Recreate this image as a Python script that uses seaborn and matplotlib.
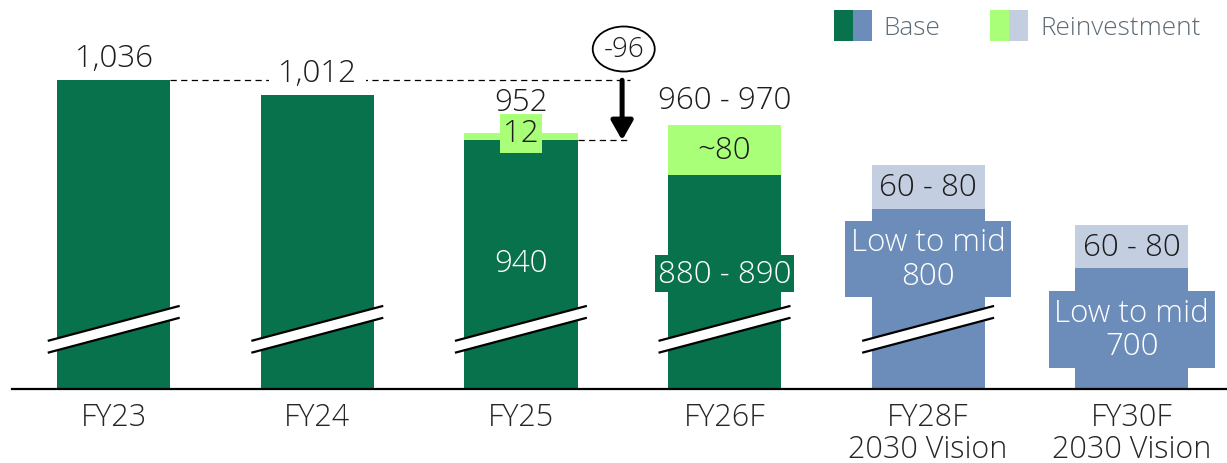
import matplotlib
matplotlib.use("Agg")
import matplotlib.pyplot as plt
import seaborn as sns
import pandas as pd
import numpy as np
from matplotlib.patches import Patch, Ellipse, Polygon
from matplotlib.legend_handler import HandlerTuple

# ---------------- data ----------------
categories = ["FY23", "FY24", "FY25", "FY26F", "FY28F\n2030 Vision", "FY30F\n2030 Vision"]
base = [1036, 1012, 940, 885, 830, 735]
reinvest = [0, 0, 12, 80, 70, 70]
top_labels = ["1,036", "1,012", "952", "960 - 970", "", ""]
base_labels = ["", "", "940", "880 - 890", "Low to mid\n800", "Low to mid\n700"]
reinv_labels = ["", "", "12", "~80", "60 - 80", "60 - 80"]
forecast = [False, False, False, False, True, True]
broken = [True, True, True, True, True, False]
delta_label = "-96"

# ---------------- style ----------------
GREEN = "#08724C"
LGREEN = "#A9FF78"
BLUE = "#6C8CBA"
LBLUE = "#C3CEE1"
DARK = "#1c1c1c"

sns.set_style("white")
plt.rcParams["font.family"] = ["Open Sans", "DejaVu Sans"]
plt.rcParams["font.weight"] = "light"

W, H = 1227, 464
fig = plt.figure(figsize=(W / 100, H / 100), dpi=100)
ax = fig.add_axes([11.9 / W, 74 / H, 1 - 11.9 / W, 390 / H])

df = pd.DataFrame({
    "cat": categories,
    "base": base,
    "total": [b + r for b, r in zip(base, reinvest)],
})
dark_cols = [BLUE if f else GREEN for f in forecast]
light_cols = [LBLUE if f else LGREEN for f in forecast]

BW = 0.556
sns.barplot(data=df, x="cat", y="total", hue="cat", palette=light_cols,
            saturation=1, width=BW, legend=False, ax=ax, linewidth=0, zorder=2)
sns.barplot(data=df, x="cat", y="base", hue="cat", palette=dark_cols,
            saturation=1, width=BW, legend=False, ax=ax, linewidth=0, zorder=3)

ax.set_ylim(542, 542 + 390 / 0.625)
ax.set_xlim(-0.5, 5.468)
ax.set_xlabel("")
ax.set_ylabel("")
ax.set_yticks([])
for s in ["top", "right", "left"]:
    ax.spines[s].set_visible(False)
ax.spines["bottom"].set_linewidth(1.6)
ax.spines["bottom"].set_color("black")
ax.spines["bottom"].set_zorder(6)
ax.tick_params(axis="x", length=0, pad=8.5, labelsize=22, labelcolor="#262626")
for t in ax.get_xticklabels():
    t.set_linespacing(1.0)
    t.set_fontweight("light")

# ---------------- axis break marks ----------------
half = 0.324
for i, b in enumerate(broken):
    if not b:
        continue
    xl, xr = i - half, i + half
    poly = Polygon([(xl, 600), (xr, 656), (xr, 675), (xl, 619)], closed=True,
                   facecolor="white", edgecolor="none", zorder=4)
    ax.add_patch(poly)
    ax.plot([xl, xr], [619, 675], color="black", lw=1.6, zorder=5, solid_capstyle="butt")
    ax.plot([xl, xr], [600, 656], color="black", lw=1.6, zorder=5, solid_capstyle="butt")

# ---------------- labels ----------------
FS = 22.5
tot = df["total"].tolist()
top_offsets = [14, 14, 23, 17, 0, 0]
for i, lab in enumerate(top_labels):
    if not lab:
        continue
    kw = {}
    z = 7
    if i == 1:
        kw["bbox"] = dict(boxstyle="square,pad=0.3", fc="white", ec="none")
        z = 1.5
    ax.annotate(lab, xy=(i, tot[i]), xytext=(0, top_offsets[i]), textcoords="offset pixels",
                ha="center", va="baseline", fontsize=FS, color=DARK, zorder=z, **kw)

# reinvestment labels (centred in light segment, FY25 on its own box)
reinv_offsets = [0, 0, 3, 0, 0, 0]
for i, lab in enumerate(reinv_labels):
    if not lab:
        continue
    ymid = base[i] + reinvest[i] / 2
    kw = {}
    if i == 2:
        kw["bbox"] = dict(boxstyle="square,pad=0.1", fc=LGREEN, ec="none")
    ax.annotate(lab, xy=(i, ymid), xytext=(0, reinv_offsets[i]), textcoords="offset pixels",
                ha="center", va="center", fontsize=FS, color=DARK, zorder=7, **kw)

# base labels
base_offsets = [0, 0, -123, -99, -50, -61]
base_pads = [0, 0, 0, 0.08, 0.18, 0.18]
for i, lab in enumerate(base_labels):
    if not lab:
        continue
    kw = {}
    if i >= 3:
        kw["bbox"] = dict(boxstyle=f"square,pad={base_pads[i]}", fc=dark_cols[i], ec="none")
    ax.annotate(lab, xy=(i, base[i]), xytext=(0, base_offsets[i]), textcoords="offset pixels",
                ha="center", va="center", fontsize=FS, color="white", zorder=7,
                linespacing=1.05, **kw)

# ---------------- delta annotation ----------------
x_r0 = 0 + BW / 2
x_r2 = 2 + BW / 2
x_end = 2.536
x_arrow = 2.497
ax.plot([x_r0, x_end], [base[0], base[0]], color="black", lw=0.9,
        dashes=(5, 3.5), zorder=1)
ax.plot([x_r2, x_end], [base[2], base[2]], color="black", lw=0.9,
        dashes=(5, 3.5), zorder=1)
ax.annotate("", xy=(x_arrow, base[2]), xytext=(x_arrow, base[0]),
            arrowprops=dict(arrowstyle="-|>,head_length=0.58,head_width=0.33",
                            lw=3.6, color="black", shrinkA=0, shrinkB=0,
                            mutation_scale=20), zorder=7)
ell = Ellipse((2.505, 1086), width=0.3045, height=72, facecolor="white",
              edgecolor="black", lw=1.3, zorder=7)
ax.add_patch(ell)
ax.text(2.505, 1086, delta_label, ha="center", va="center", fontsize=20,
        color=DARK, zorder=8)

# ---------------- legend ----------------
h1 = (Patch(fc=GREEN, lw=0), Patch(fc=BLUE, lw=0))
h2 = (Patch(fc=LGREEN, lw=0), Patch(fc=LBLUE, lw=0))
leg = ax.legend([h1, h2], ["Base", "Reinvestment"],
                handler_map={tuple: HandlerTuple(ndivide=None, pad=0)},
                loc="upper left", bbox_to_anchor=(834 / W, 1 - 11 / H),
                bbox_transform=fig.transFigure, ncol=2, frameon=False,
                fontsize=18.8, handlelength=1.46, handleheight=1.46,
                handletextpad=0.45, columnspacing=1.9, borderpad=0,
                borderaxespad=0, labelcolor="#5d6b75")
for t in leg.get_texts():
    t.set_fontweight("light")

fig.savefig("out.png", dpi=100)
